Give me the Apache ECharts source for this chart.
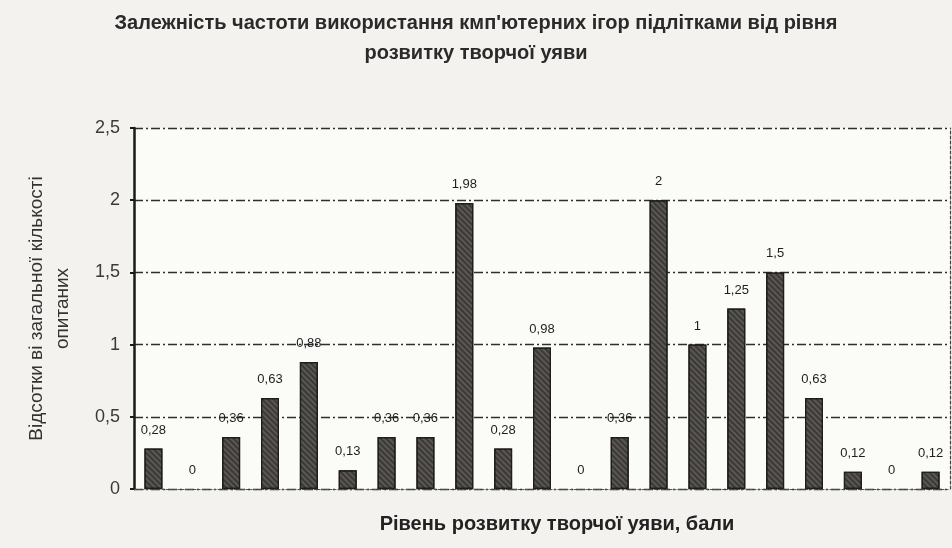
<!DOCTYPE html>
<html>
<head>
<meta charset="utf-8">
<script src="https://cdn.jsdelivr.net/npm/echarts@6/dist/echarts.min.js"></script>
<style>
  html, body { margin: 0; padding: 0; background: #f3f2ee; }
  #chart { width: 952px; height: 548px; }
</style>
</head>
<body>
<div id="chart"></div>
<script>
// Рівень розвитку творчої уяви (бали) і частка опитаних
const categories = ['1','2','3','4','5','6','7','8','9','10','11','12','13','14','15','16','17','18','19','20','21'];
const values = [0.28, 0, 0.36, 0.63, 0.88, 0.13, 0.36, 0.36, 1.98, 0.28, 0.98, 0, 0.36, 2, 1, 1.25, 1.5, 0.63, 0.12, 0, 0.12];
const yTicks = { min: 0, max: 2.5, interval: 0.5 };

const titleText = 'Залежність частоти використання кмп\'ютерних ігор підлітками від рівня\nрозвитку творчої уяви';
const xName = 'Рівень розвитку творчої уяви, бали';
const yName = 'Відсотки ві загальної кількості\nопитаних';

const comma = v => String(v).replace('.', ',');
const dashDot = [9, 3, 2, 3];

// zero-height bars get no outline, so no stray line sits on the baseline
const barData = values.map(v => v === 0 ? { value: v, itemStyle: { borderWidth: 0 } } : v);

const chart = echarts.init(document.getElementById('chart'));
chart.setOption({
  backgroundColor: '#f3f2ee',
  animation: false,
  title: {
    text: titleText,
    left: 'center',
    top: 3,
    textStyle: {
      fontFamily: 'Arial, sans-serif',
      fontSize: 20,
      fontWeight: 'bold',
      color: '#2a2a2a',
      lineHeight: 30
    }
  },
  grid: { left: 134, right: 2, top: 128, bottom: 59, show: true, backgroundColor: '#fbfbf8', borderWidth: 0 },
  xAxis: {
    type: 'category',
    data: categories,
    name: xName,
    nameLocation: 'middle',
    nameGap: 25,
    nameTextStyle: { fontFamily: 'Arial, sans-serif', fontSize: 20, fontWeight: 'bold', color: '#222', padding: [0, 0, 0, 30] },
    axisLine: { lineStyle: { color: '#555', width: 1.2, type: [2, 2] } },
    axisTick: { show: false },
    axisLabel: { show: false }
  },
  yAxis: [{
    type: 'value',
    min: yTicks.min,
    max: yTicks.max,
    interval: yTicks.interval,
    name: yName,
    nameLocation: 'middle',
    nameGap: 58,
    nameRotate: 90,
    nameTextStyle: { fontFamily: 'Arial, sans-serif', fontSize: 19, color: '#333', lineHeight: 26, align: 'center' },
    axisLine: { show: true, lineStyle: { color: '#1a1a1a', width: 2.5 } },
    axisTick: { show: true, length: 4, inside: false, lineStyle: { color: '#1a1a1a', width: 2 } },
    axisLabel: { formatter: comma, fontFamily: 'Arial, sans-serif', fontSize: 18, color: '#3a3a3a', margin: 14 },
    splitLine: { show: true, lineStyle: { color: '#2e2e2e', width: 1.3, type: dashDot } }
  }, {
    type: 'value',
    position: 'right',
    min: yTicks.min,
    max: yTicks.max,
    interval: yTicks.interval,
    axisLine: { show: true, lineStyle: { color: '#444', width: 1.2, type: [3, 2] } },
    axisTick: { show: false },
    axisLabel: { show: false },
    splitLine: { show: false }
  }],
  series: [{
    type: 'bar',
    data: barData,
    barWidth: 18,
    itemStyle: {
      color: '#5b5753',
      borderColor: '#1e1e1e',
      borderWidth: 1.2,
      decal: {
        symbol: 'rect',
        symbolSize: 1,
        dashArrayX: [1, 0],
        dashArrayY: [2, 2],
        rotation: Math.PI / 4,
        color: 'rgba(0,0,0,0.35)'
      }
    },
    label: {
      show: true,
      position: 'top',
      distance: 12,
      formatter: p => comma(p.value),
      fontFamily: 'Arial, sans-serif',
      fontSize: 13,
      color: '#1e1e1e'
    }
  }]
});
</script>
</body>
</html>
